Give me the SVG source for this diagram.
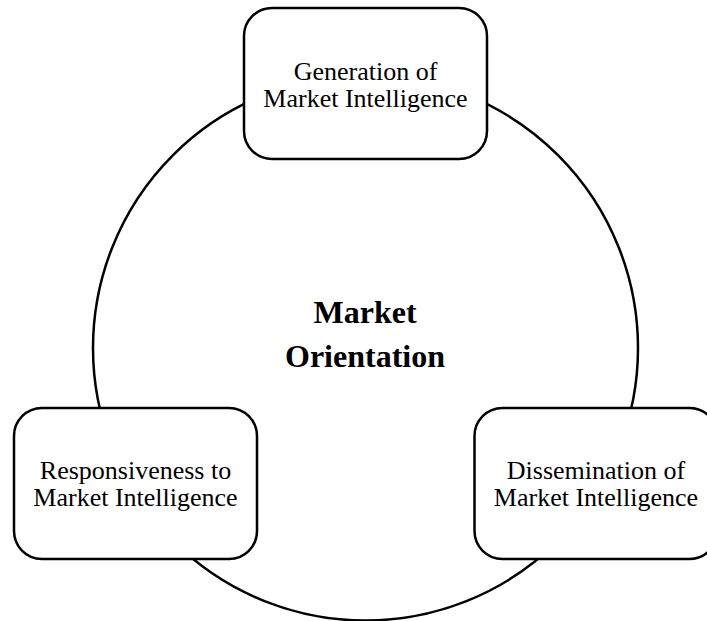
<svg xmlns="http://www.w3.org/2000/svg" width="707" height="621" viewBox="0 0 707 621">
<style>
.box{fill:#fff;stroke:#000;stroke-width:2.5}
.ring{fill:none;stroke:#000;stroke-width:2.5}
.t{font-family:"Liberation Serif","Times New Roman",serif;font-size:26px;text-anchor:middle;fill:#000}
.b{font-family:"Liberation Serif","Times New Roman",serif;font-size:32px;font-weight:bold;text-anchor:middle;fill:#000}
</style>
<rect width="707" height="621" fill="#fff"/>
<g id="connectors">
<circle class="ring" cx="365.5" cy="348" r="272.5"/>
</g>
<g id="center">
<text class="b" x="365" y="323">Market</text>
<text class="b" x="365" y="367">Orientation</text>
</g>
<g id="generation">
<rect class="box" x="244" y="8" width="243" height="151" rx="28"/>
<text class="t" x="365.5" y="80">Generation of</text>
<text class="t" x="365.5" y="107">Market Intelligence</text>
</g>
<g id="responsiveness">
<rect class="box" x="14" y="408" width="243" height="151" rx="28"/>
<text class="t" x="135.5" y="479">Responsiveness to</text>
<text class="t" x="135.5" y="506">Market Intelligence</text>
</g>
<g id="dissemination">
<rect class="box" x="474.5" y="408" width="243" height="151" rx="28"/>
<text class="t" x="596" y="479">Dissemination of</text>
<text class="t" x="596" y="506">Market Intelligence</text>
</g>
</svg>
